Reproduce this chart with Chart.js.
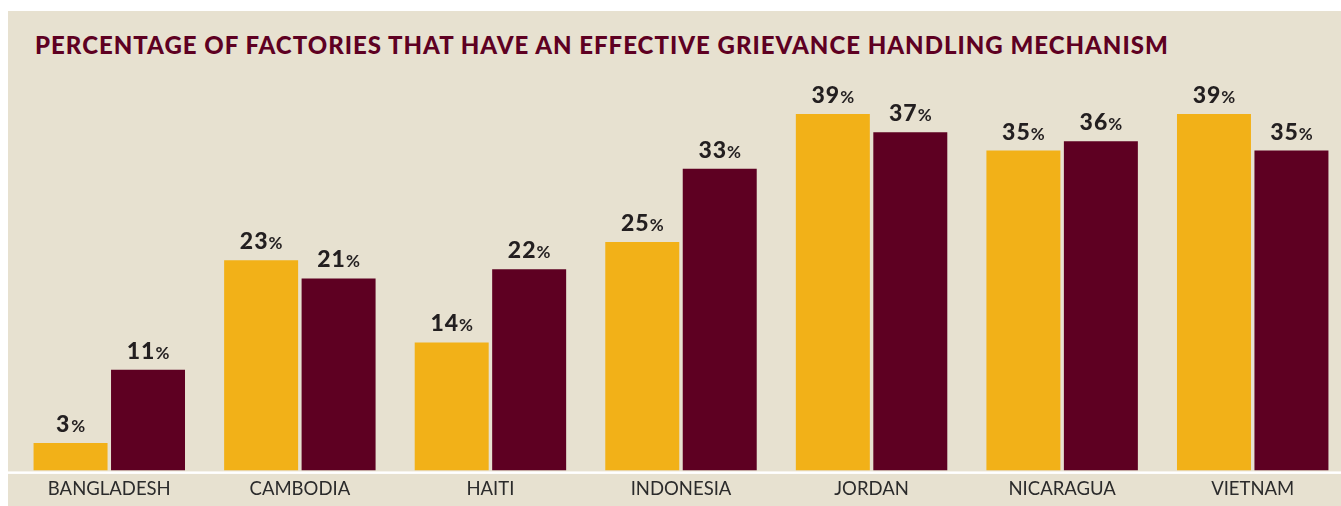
<!DOCTYPE html>
<html>
<head>
<meta charset="utf-8">
<script src="https://cdn.jsdelivr.net/npm/chart.js@4.4.1/dist/chart.umd.min.js"></script>
<style>
  html, body { margin:0; padding:0; background:#fff; width:1341px; height:506px; overflow:hidden; }
  #panel { position:absolute; left:8px; top:11px; width:1333px; height:495px; background:#e7e1d0; overflow:hidden; }
  #title { position:absolute; left:27px; top:22px; margin:0; font:900 24px Lato, sans-serif; letter-spacing:1px; color:#5e0022; line-height:1; white-space:nowrap; }
  #chart { position:absolute; left:0; top:0; }
</style>
</head>
<body>
<div id="panel">
  <h1 id="title">PERCENTAGE OF FACTORIES THAT HAVE AN EFFECTIVE GRIEVANCE HANDLING MECHANISM</h1>
  <canvas id="chart" width="1341" height="504"></canvas>
</div>
<script>
const countries  = ['BANGLADESH', 'CAMBODIA', 'HAITI', 'INDONESIA', 'JORDAN', 'NICARAGUA', 'VIETNAM'];
const firstSeries  = [3, 23, 14, 25, 39, 35, 39];   // yellow bars
const secondSeries = [11, 21, 22, 33, 37, 36, 35];  // maroon bars
const yMax = 40;

const YELLOW = '#f2b118';
const MAROON = '#5e0022';

// white baseline running across the whole panel
const baseline = {
  id: 'baseline',
  beforeDatasetsDraw(chart) {
    const { ctx, chartArea, width } = chart;
    ctx.save();
    ctx.fillStyle = '#ffffff';
    ctx.fillRect(0, chartArea.bottom + 1, width, 2.5);
    ctx.restore();
  }
};

// "39%" labels: big bold number, smaller percent sign
const valueLabels = {
  id: 'valueLabels',
  afterDatasetsDraw(chart) {
    const ctx = chart.ctx;
    ctx.save();
    ctx.fillStyle = '#231f20';
    ctx.textBaseline = 'alphabetic';
    ctx.textAlign = 'left';
    chart.data.datasets.forEach((ds, i) => {
      chart.getDatasetMeta(i).data.forEach((bar, j) => {
        const num = String(ds.data[j]);
        ctx.font = '900 23px Lato, sans-serif';
        const w1 = ctx.measureText(num).width + 1;
        ctx.font = '700 17px Lato, sans-serif';
        const w2 = ctx.measureText('%').width;
        const x0 = bar.x - (w1 + w2 + 1) / 2;
        const y = bar.y - 11;
        ctx.font = '900 23px Lato, sans-serif';
        ctx.fillText(num[0], x0, y);
        if (num.length > 1) ctx.fillText(num.slice(1), x0 + ctx.measureText(num[0]).width + 1, y);
        ctx.font = '700 17px Lato, sans-serif';
        ctx.fillText('%', x0 + w1 + 1, y);
      });
    });
    ctx.restore();
  }
};

new Chart(document.getElementById('chart'), {
  type: 'bar',
  data: {
    labels: countries,
    datasets: [
      { data: firstSeries,  backgroundColor: YELLOW, categoryPercentage: 0.813, barPercentage: 0.955 },
      { data: secondSeries, backgroundColor: MAROON, categoryPercentage: 0.813, barPercentage: 0.955 }
    ]
  },
  options: {
    responsive: false,
    animation: false,
    devicePixelRatio: 1,
    layout: { padding: { left: 6, right: 1, top: 93.8, bottom: 6.4 } },
    plugins: { legend: { display: false }, tooltip: { enabled: false } },
    scales: {
      x: {
        grid: { display: false, drawTicks: false, tickLength: 0 },
        border: { display: false },
        ticks: { color: '#2b2b2b', font: { family: 'Lato, sans-serif', size: 18.5 }, padding: 8, maxRotation: 0 }
      },
      y: { display: false, min: 0, max: yMax }
    }
  },
  plugins: [baseline, valueLabels]
});
</script>
</body>
</html>
